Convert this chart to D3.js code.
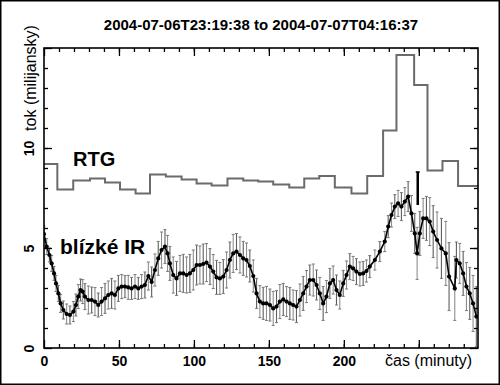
<!DOCTYPE html>
<html>
<head>
<meta charset="utf-8">
<script src="https://cdn.jsdelivr.net/npm/d3@7"></script>
<style>
    body { margin: 0; background: #fff; }
    svg text { font-family: "Liberation Sans", Arial, Helvetica, sans-serif; fill: #000; }
</style>
</head>
<body>
<div id="chart"></div>
<script>
//Datos - RTG (inicio de cada bin en minutos y flujo)
const rtgStart = [0, 8.9, 19.5, 30.7, 40.7, 50.7, 61.1, 70.7, 81.3, 91.8, 101.8, 111.8, 122.4, 132.9,
    142.9, 152.9, 163.6, 173.6, 183.6, 194.0, 205.1, 215.6, 226.2, 235.1, 246.9, 255.8, 265.8, 276.2];
const rtgFlux = [9.2, 7.93, 8.37, 8.48, 8.28, 7.93, 7.73, 8.68, 8.57, 8.43, 8.23, 8.13, 8.48, 8.37,
    8.32, 8.18, 8.02, 8.48, 8.6, 8.02, 7.73, 8.6, 10.87, 14.65, 13.15, 8.88, 9.35, 8.1];

//Datos - blízké IR
const irTime = [0, 1.8, 3.6, 5.1, 6.7, 8.0, 9.6, 11.1, 12.9, 15.1, 17.3, 19.6, 21.3, 22.9, 24.4, 25.8, 27.3, 29.6,
    31.8, 34.0, 36.2, 38.4, 40.7, 42.9, 45.1, 47.3, 49.6, 51.8, 54.0, 56.2, 58.4, 60.7, 62.9, 65.1, 67.3, 69.6,
    71.8, 74.0, 76.2, 78.4, 80.7, 82.4, 84.0, 86.2, 88.4, 90.7, 92.9, 95.1, 97.3, 99.6, 101.8, 104.0, 106.2, 108.4,
    110.7, 112.9, 115.1, 117.3, 119.6, 121.8, 124.0, 126.2, 128.4, 130.7, 132.9, 135.1, 137.3, 139.6, 141.8, 144.0,
    146.2, 148.4, 150.7, 152.9, 155.1, 157.3, 159.6, 161.8, 164.0, 166.2, 168.4, 170.7, 172.9, 175.1, 177.3, 179.6,
    181.8, 184.0, 186.2, 188.4, 190.7, 192.9, 195.1, 197.3, 199.6, 201.8, 204.0, 206.2, 208.4, 210.7, 212.9, 215.1,
    217.3, 220.7, 224.0, 227.3, 229.6, 231.8, 234.0, 236.2, 238.4, 240.7, 242.9, 245.1, 247.3, 248.9, 250.7, 252.9,
    255.1, 257.3, 259.6, 262.2, 265.1, 268.0, 270.2, 274.0, 275.1, 277.3, 279.6, 281.8, 284.0, 286.2, 288.4];
const irFlux = [5.7, 5.07, 4.65, 4.23, 3.73, 3.23, 2.73, 2.23, 1.9, 1.7, 1.65, 1.82, 2.15, 2.57, 2.9, 2.82, 2.57, 2.4,
    2.4, 2.32, 2.15, 2.32, 2.48, 2.65, 2.73, 2.65, 2.98, 3.07, 3.07, 3.03, 2.98, 3.07, 2.98, 3.07, 3.15, 3.6,
    3.3, 3.9, 4.48, 4.9, 5.07, 4.73, 4.23, 3.65, 3.48, 3.73, 3.73, 3.65, 3.73, 3.9, 4.15, 4.15, 4.2, 4.27,
    4.07, 3.82, 3.53, 3.48, 3.57, 3.9, 4.4, 4.73, 4.82, 4.65, 4.48, 4.4, 4.1, 3.6, 2.73, 2.32,
    2.23, 2.23, 2.15, 1.98, 2.07, 2.32, 2.43, 2.32, 2.23, 2.15, 2.07, 2.4, 2.73, 3.07, 3.4, 3.4,
    3.15, 2.73, 2.23, 2.57, 3.23, 3.4, 2.9, 2.65, 3.23, 3.65, 4.07, 3.98, 3.82, 3.7, 3.73, 3.85,
    4.07, 4.4, 4.82, 5.32, 6.07, 6.65, 7.07, 7.23, 7.07, 7.32, 7.57, 6.73, 5.73, 4.73, 5.73, 6.48,
    6.48, 6.32, 5.82, 5.4, 4.98, 4.73, 3.57, 2.98, 4.4, 4.23, 3.73, 3.07, 2.73, 2.23, 1.57];
const irErr = [0.4, 0.4, 0.35, 0.4, 0.35, 0.4, 0.4, 0.45, 0.45, 0.5, 0.45, 0.5, 0.55, 0.6, 0.55, 0.6, 0.65, 0.7,
    0.65, 0.7, 0.6, 0.7, 0.75, 0.7, 0.75, 0.7, 0.65, 0.6, 0.55, 0.6, 0.55, 0.6, 0.55, 0.6, 0.65, 0.7,
    0.75, 0.8, 0.85, 0.9, 0.85, 0.9, 0.85, 0.9, 0.85, 0.9, 0.95, 0.9, 0.95, 1.0, 1.0, 0.95, 1.0, 0.95,
    0.9, 0.85, 0.85, 0.8, 0.85, 0.9, 0.9, 0.95, 0.9, 0.9, 0.85, 0.85, 0.8, 0.8, 0.75, 0.8,
    0.8, 0.85, 0.8, 0.85, 0.8, 0.85, 0.8, 0.75, 0.8, 0.75, 0.8, 0.8, 0.85, 0.8, 0.75, 0.8,
    0.75, 0.8, 0.85, 0.8, 0.75, 0.7, 0.75, 0.7, 0.65, 0.7, 0.65, 0.6, 0.65, 0.6, 0.6, 0.55,
    0.55, 0.5, 0.5, 0.5, 0.55, 0.6, 0.6, 0.65, 0.7, 0.7, 0.75, 0.9, 1.0, 1.3, 1.1, 1.0,
    1.1, 1.2, 1.3, 1.4, 1.5, 1.6, 1.7, 1.6, 0.9, 1.0, 1.1, 1.2, 1.3, 1.4, 1.5];

//Marca especial (barra negra)
const markTime = 249.3, markLow = 7.15, markHigh = 8.8;

//Ejes
const xMajor = [0, 50, 100, 150, 200, 250];
const xLabels = [0, 50, 100, 150, 200];
const xMinor = d3.range(10, 290, 10);
const yMajor = [0, 5, 10, 15];
const yLabels = [0, 5, 10];
const yMinor = d3.range(1, 15, 1);

const titleText = '2004-07-06T23:19:38 to 2004-07-07T04:16:37';

const W = 500, H = 385;
const margin = {top: 48, right: 22, bottom: 37, left: 44};

let svg = d3.select('#chart')
    .append('svg')
        .attr('width', W)
        .attr('height', H);

//Marco exterior
svg.append('rect')
    .attr('x', 0.75).attr('y', 0.75)
    .attr('width', W - 1.5).attr('height', H - 1.5)
    .attr('fill', '#fff')
    .attr('stroke', '#000')
    .attr('stroke-width', 1.5);

let x = d3.scaleLinear()
    .domain([0, 289.5])
    .range([margin.left, W - margin.right]);

let y = d3.scaleLinear()
    .domain([0, 15])
    .range([H - margin.bottom, margin.top]);

svg.append('defs').append('clipPath').attr('id', 'clip')
    .append('rect')
    .attr('x', x(0)).attr('y', y(15))
    .attr('width', x(289.5) - x(0)).attr('height', y(0) - y(15));

let plot = svg.append('g').attr('clip-path', 'url(#clip)');

//Barras de error IR
let ir = irTime.map(function(t, i) { return {t: t, v: irFlux[i], e: irErr[i]}; });

plot.append('g')
    .selectAll('line')
    .data(ir)
    .enter()
    .append('line')
    .attr('x1', function(d) { return x(d.t); })
    .attr('x2', function(d) { return x(d.t); })
    .attr('y1', function(d) { return y(d.v - d.e); })
    .attr('y2', function(d) { return y(d.v + d.e); })
    .attr('stroke', function(d, i) { return i % 2 ? '#8e8e8e' : '#5e5e5e'; })
    .attr('stroke-width', 1.1);

//Remates de las barras
['lo', 'hi'].forEach(function(side) {
    plot.append('g')
        .selectAll('line')
        .data(ir)
        .enter()
        .append('line')
        .attr('x1', function(d) { return x(d.t) - 1.5; })
        .attr('x2', function(d) { return x(d.t) + 1.5; })
        .attr('y1', function(d) { return y(side == 'lo' ? d.v - d.e : d.v + d.e); })
        .attr('y2', function(d) { return y(side == 'lo' ? d.v - d.e : d.v + d.e); })
        .attr('stroke', '#777')
        .attr('stroke-width', 1);
});

//Línea y puntos IR
plot.append('path')
    .datum(ir)
    .attr('fill', 'none')
    .attr('stroke', '#000')
    .attr('stroke-width', 1.6)
    .attr('d', d3.line().x(function(d) { return x(d.t); }).y(function(d) { return y(d.v); }));

plot.append('g')
    .selectAll('circle')
    .data(ir)
    .enter()
    .append('circle')
    .attr('cx', function(d) { return x(d.t); })
    .attr('cy', function(d) { return y(d.v); })
    .attr('r', 2.1)
    .attr('fill', '#000');

//Línea RTG en escalones
let rtg = rtgStart.map(function(t, i) { return {t: t, v: rtgFlux[i]}; });
rtg.push({t: 289.5, v: rtgFlux[rtgFlux.length - 1]});

plot.append('path')
    .datum(rtg)
    .attr('fill', 'none')
    .attr('stroke', '#6b6b6b')
    .attr('stroke-width', 2)
    .attr('d', d3.line().curve(d3.curveStepAfter)
        .x(function(d) { return x(d.t); })
        .y(function(d) { return y(d.v); }));

//Barra negra
svg.append('line')
    .attr('x1', x(markTime)).attr('x2', x(markTime))
    .attr('y1', y(markLow)).attr('y2', y(markHigh))
    .attr('stroke', '#000').attr('stroke-width', 2.5);
svg.append('line')
    .attr('x1', x(markTime) - 2).attr('x2', x(markTime) + 2)
    .attr('y1', y(markHigh)).attr('y2', y(markHigh))
    .attr('stroke', '#000').attr('stroke-width', 1.5);

//Ejes con marcas hacia dentro
function styleAxis(g) {
    g.select('.domain').remove();
    g.selectAll('.tick line').attr('stroke', '#000').attr('stroke-width', 1.3);
}

svg.append('g').attr('transform', 'translate(0,' + y(0) + ')')
    .call(d3.axisBottom(x).tickValues(xMinor).tickSize(-4).tickFormat(''))
    .call(styleAxis);
svg.append('g').attr('transform', 'translate(0,' + y(0) + ')')
    .call(d3.axisBottom(x).tickValues(xMajor).tickSize(-8).tickPadding(8)
        .tickFormat(function(d) { return xLabels.indexOf(d) >= 0 ? d : ''; }))
    .call(styleAxis)
    .call(function(g) {
        g.selectAll('text')
            .attr('font-size', 14)
            .attr('font-weight', 'bold')
            .attr('font-family', '"Liberation Sans", Arial, sans-serif');
    });

svg.append('g').attr('transform', 'translate(0,' + y(15) + ')')
    .call(d3.axisTop(x).tickValues(xMinor).tickSize(-4).tickFormat(''))
    .call(styleAxis);
svg.append('g').attr('transform', 'translate(0,' + y(15) + ')')
    .call(d3.axisTop(x).tickValues(xMajor).tickSize(-8).tickFormat(''))
    .call(styleAxis);

svg.append('g').attr('transform', 'translate(' + x(0) + ',0)')
    .call(d3.axisLeft(y).tickValues(yMinor).tickSize(-4).tickFormat(''))
    .call(styleAxis);
svg.append('g').attr('transform', 'translate(' + x(0) + ',0)')
    .call(d3.axisLeft(y).tickValues(yMajor).tickSize(-8)
        .tickFormat(function(d) { return yLabels.indexOf(d) >= 0 ? d : ''; }))
    .call(styleAxis)
    .call(function(g) {
        g.selectAll('text')
            .attr('x', 0)
            .attr('y', -10)
            .attr('dy', null)
            .attr('transform', 'rotate(-90)')
            .attr('text-anchor', 'middle')
            .attr('font-size', 14)
            .attr('font-weight', 'bold')
            .attr('font-family', '"Liberation Sans", Arial, sans-serif');
    });

svg.append('g').attr('transform', 'translate(' + x(289.5) + ',0)')
    .call(d3.axisRight(y).tickValues(yMinor).tickSize(-4).tickFormat(''))
    .call(styleAxis);
svg.append('g').attr('transform', 'translate(' + x(289.5) + ',0)')
    .call(d3.axisRight(y).tickValues(yMajor).tickSize(-8).tickFormat(''))
    .call(styleAxis);

//Marco del gráfico
svg.append('rect')
    .attr('x', x(0)).attr('y', y(15))
    .attr('width', x(289.5) - x(0)).attr('height', y(0) - y(15))
    .attr('fill', 'none')
    .attr('stroke', '#000')
    .attr('stroke-width', 1.6);

//Textos
svg.append('text')
    .attr('x', 261).attr('y', 30)
    .attr('text-anchor', 'middle')
    .attr('font-size', 15)
    .attr('font-weight', 'bold')
    .text(titleText);

svg.append('text')
    .attr('transform', 'translate(36,78) rotate(-90)')
    .attr('text-anchor', 'middle')
    .attr('font-size', 16)
    .text('tok (milijansky)');

svg.append('text')
    .attr('x', 385).attr('y', 366)
    .attr('font-size', 16)
    .text('čas (minuty)');

svg.append('text')
    .attr('x', 73).attr('y', 166)
    .attr('font-size', 20)
    .attr('font-weight', 'bold')
    .text('RTG');

svg.append('text')
    .attr('x', 60).attr('y', 254)
    .attr('font-size', 21)
    .attr('font-weight', 'bold')
    .text('blízké IR');
</script>
</body>
</html>
